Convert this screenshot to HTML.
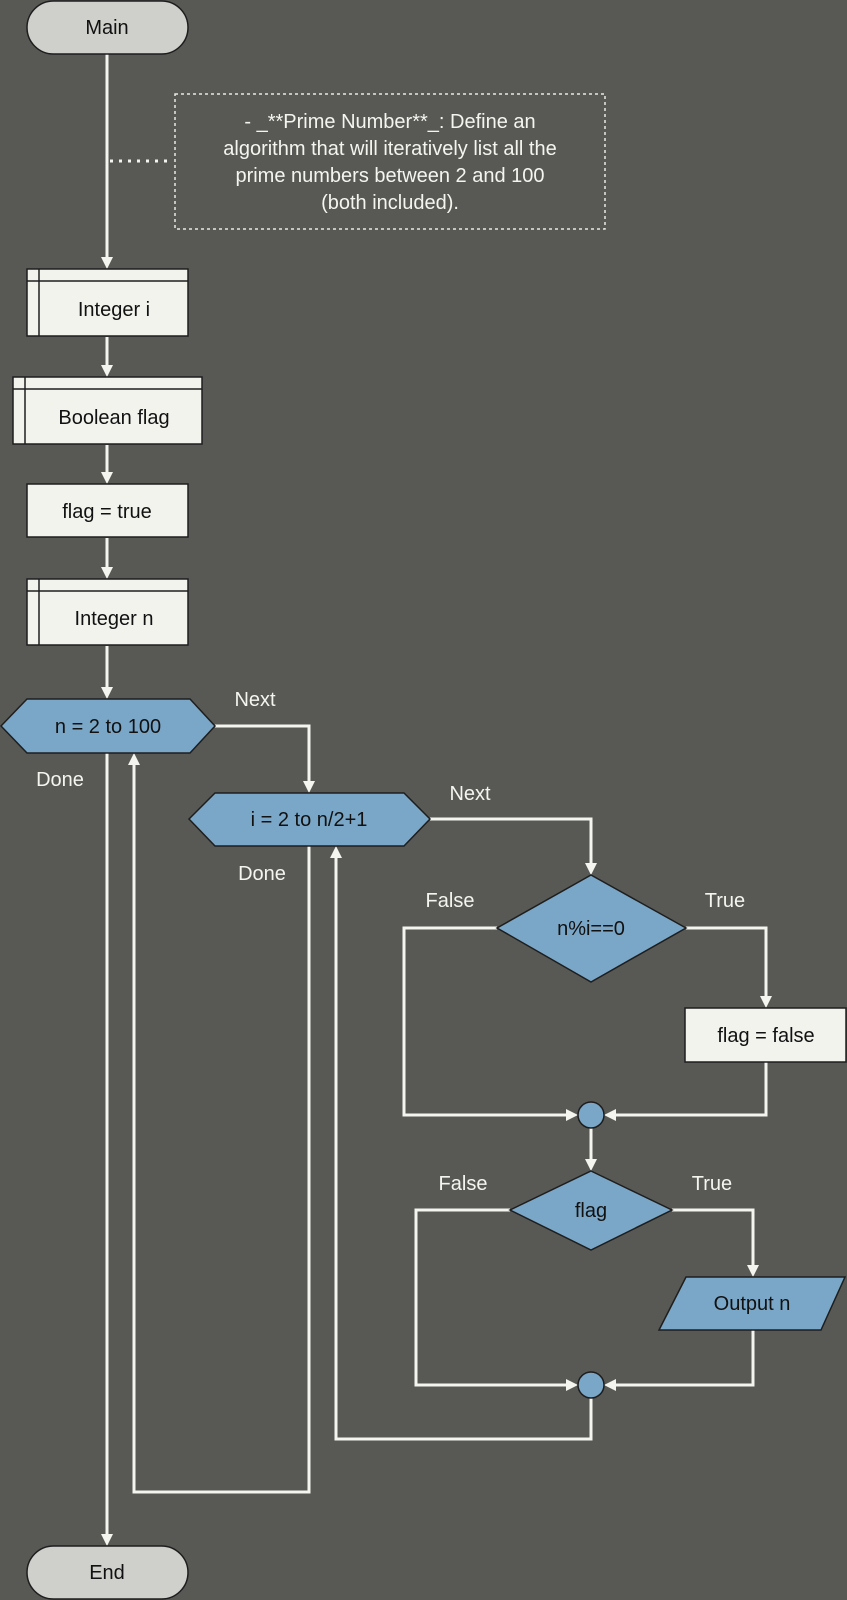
<!DOCTYPE html>
<html><head><meta charset="utf-8"><style>html,body{margin:0;padding:0;background:#585855;}svg{display:block}</style></head>
<body>
<svg width="847" height="1600" viewBox="0 0 847 1600" xmlns="http://www.w3.org/2000/svg" font-family="Liberation Sans, Arial, sans-serif">
<defs>
<marker id="a" viewBox="0 0 10 10" refX="10" refY="5" markerWidth="4.5" markerHeight="4.5" orient="auto" markerUnits="userSpaceOnUse" style="overflow:visible">
</marker>
</defs>
<rect width="847" height="1600" fill="#585855"/>
<g fill="none" stroke="#f5f5f0" stroke-width="3">
<!-- main line -->
<line x1="107" y1="54" x2="107" y2="257"/>
<line x1="107" y1="337" x2="107" y2="365"/>
<line x1="107" y1="445" x2="107" y2="472"/>
<line x1="107" y1="538" x2="107" y2="567"/>
<line x1="107" y1="646" x2="107" y2="687"/>
<line x1="107" y1="753" x2="107" y2="1534"/>
<!-- n loop back -->
<polyline points="309,846 309,1492 134,1492 134,765"/>
<!-- n next -->
<polyline points="215,726 309,726 309,781"/>
<!-- i loop back -->
<polyline points="591,1398 591,1439 336,1439 336,858"/>
<!-- i next -->
<polyline points="430,819 591,819 591,863"/>
<!-- decision 1 -->
<polyline points="497,928 404,928 404,1115 566,1115"/>
<polyline points="686,928 766,928 766,996"/>
<polyline points="766,1062 766,1115 616,1115"/>
<line x1="591" y1="1128" x2="591" y2="1159"/>
<!-- decision 2 -->
<polyline points="510,1210 416,1210 416,1385 566,1385"/>
<polyline points="672,1210 753,1210 753,1265"/>
<polyline points="753,1330 753,1385 616,1385"/>
</g>
<g fill="#f5f5f0">
<polygon points="101,257 113,257 107,269"/>
<polygon points="101,365 113,365 107,377"/>
<polygon points="101,472 113,472 107,484"/>
<polygon points="101,567 113,567 107,579"/>
<polygon points="101,687 113,687 107,699"/>
<polygon points="101,1534 113,1534 107,1546"/>
<polygon points="128,765 140,765 134,753"/>
<polygon points="303,781 315,781 309,793"/>
<polygon points="330,858 342,858 336,846"/>
<polygon points="585,863 597,863 591,875"/>
<polygon points="760,996 772,996 766,1008"/>
<polygon points="566,1109 566,1121 578,1115"/>
<polygon points="616,1109 616,1121 604,1115"/>
<polygon points="585,1159 597,1159 591,1171"/>
<polygon points="747,1265 759,1265 753,1277"/>
<polygon points="566,1379 566,1391 578,1385"/>
<polygon points="616,1379 616,1391 604,1385"/>
</g>
<!-- dotted connector + note -->
<line x1="110" y1="161" x2="172" y2="161" stroke="#f5f5f0" stroke-width="3" stroke-dasharray="3,6"/>
<rect x="175" y="94" width="430" height="135" fill="none" stroke="#e8e8e3" stroke-width="1.5" stroke-dasharray="3,3"/>
<g fill="#f5f5f0" font-size="20" text-anchor="middle">
<text x="390" y="128">- _**Prime Number**_: Define an</text>
<text x="390" y="155">algorithm that will iteratively list all the</text>
<text x="390" y="182">prime numbers between 2 and 100</text>
<text x="390" y="209">(both included).</text>
<text x="255" y="706">Next</text>
<text x="60" y="786">Done</text>
<text x="470" y="800">Next</text>
<text x="262" y="880">Done</text>
<text x="450" y="907">False</text>
<text x="725" y="907">True</text>
<text x="463" y="1190">False</text>
<text x="712" y="1190">True</text>
</g>
<g stroke="#1e1e1e" stroke-width="1.5">
<rect x="27" y="1" width="161" height="53" rx="26.5" fill="#cfcfcb"/>
<rect x="27" y="1546" width="161" height="53" rx="26.5" fill="#cfcfcb"/>
<rect x="27" y="269" width="161" height="67" fill="#f3f3ee"/>
<line x1="39" y1="269" x2="39" y2="336"/><line x1="27" y1="281" x2="188" y2="281"/>
<rect x="13" y="377" width="189" height="67" fill="#f3f3ee"/>
<line x1="25" y1="377" x2="25" y2="444"/><line x1="13" y1="389" x2="202" y2="389"/>
<rect x="27" y="484" width="161" height="53" fill="#f3f3ee"/>
<rect x="27" y="579" width="161" height="66" fill="#f3f3ee"/>
<line x1="39" y1="579" x2="39" y2="645"/><line x1="27" y1="591" x2="188" y2="591"/>
<polygon points="1,726 27,699 190,699 215,726 190,753 27,753" fill="#7aa7c7"/>
<polygon points="189,819 215,793 404,793 430,819 404,846 215,846" fill="#7aa7c7"/>
<polygon points="591,875 686,928 591,982 497,928" fill="#7aa7c7"/>
<rect x="685" y="1008" width="161" height="54" fill="#f3f3ee"/>
<circle cx="591" cy="1115" r="13" fill="#7aa7c7"/>
<polygon points="591,1171 672,1210 591,1250 510,1210" fill="#7aa7c7"/>
<polygon points="686,1277 845,1277 821,1330 659,1330" fill="#7aa7c7"/>
<circle cx="591" cy="1385" r="13" fill="#7aa7c7"/>
</g>
<g fill="#111" font-size="20" text-anchor="middle">
<text x="107" y="34">Main</text>
<text x="114" y="316">Integer i</text>
<text x="114" y="424">Boolean flag</text>
<text x="107" y="518">flag = true</text>
<text x="114" y="625">Integer n</text>
<text x="108" y="733">n = 2 to 100</text>
<text x="309" y="826">i = 2 to n/2+1</text>
<text x="591" y="935">n%i==0</text>
<text x="766" y="1042">flag = false</text>
<text x="591" y="1217">flag</text>
<text x="752" y="1310">Output n</text>
<text x="107" y="1579">End</text>
</g>
</svg>
</body></html>
